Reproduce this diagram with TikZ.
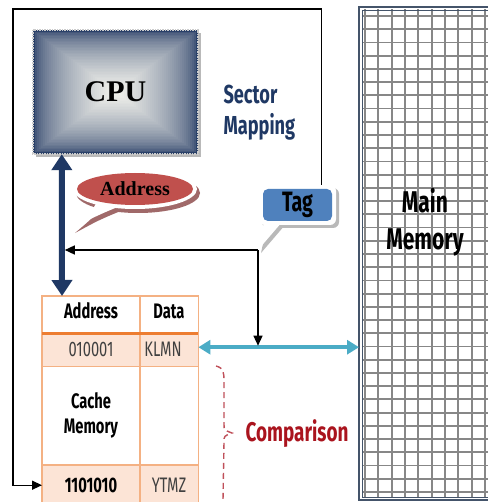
\documentclass[tikz,border=0pt]{standalone}
\usepackage{fontspec}
\setmainfont{Liberation Serif}
\newfontfamily\cond{Fira Sans}[FakeStretch=0.7]
\usetikzlibrary{arrows.meta,calc}
\definecolor{navy}{RGB}{31,56,100}
\definecolor{cpuD}{RGB}{42,64,104}
\definecolor{cpuL}{RGB}{242,242,236}
\definecolor{tagblue}{RGB}{79,129,189}
\definecolor{addrred}{RGB}{192,80,77}
\definecolor{addrsh}{RGB}{160,105,105}
\definecolor{tblline}{RGB}{244,177,131}
\definecolor{tblthick}{RGB}{237,125,49}
\definecolor{peach}{RGB}{252,228,214}
\definecolor{tealc}{RGB}{75,172,198}
\definecolor{memedge}{RGB}{68,84,106}
\definecolor{gridc}{RGB}{135,135,135}
\definecolor{compred}{RGB}{192,80,90}
\definecolor{comptext}{RGB}{170,20,30}
\tikzset{
  box/.style={inner sep=0pt, anchor=north west},
  tbltxt/.style={font=\cond\bfseries\fontsize{21}{25}\selectfont, text=black, align=center},
  tblval/.style={font=\cond\fontsize{21}{25}\selectfont, text=black!75},
  blk/.style={line width=1.4pt, -{Triangle[width=9pt,length=10pt]}},
  gridline/.style={gridc, line width=1.8pt},
}
\begin{document}
\begin{tikzpicture}[x=1pt,y=-1pt]
\useasboundingbox (0,0) rectangle (487,502);
\fill[white] (0,0) rectangle (487,502);

% ---------- CPU ----------
\fill[gray!55] (36,33) rectangle (201,157);
\foreach \i in {0,...,40}{
  \pgfmathsetmacro\fr{1-\i/41}
  \pgfmathsetmacro\tp{100*(\i/40)^0.55}
  \fill[cpuL!\tp!cpuD] ({115.5-82.5*\fr},{92-62*\fr}) rectangle ({115.5+82.5*\fr},{92+62*\fr});
}
\draw[white!60!gray, densely dotted, line width=1.5pt] (33,30) rectangle (198,154);
\node[font=\bfseries\fontsize{30}{30}\selectfont, minimum width=165pt, minimum height=124pt, inner sep=0pt] (cpu) at (115.5,92) {CPU};

% ---------- Main memory ----------
\node[box, minimum width=140pt, minimum height=493pt, fill=white] (mm) at (359,7) {};
\begin{scope}
\clip (362,10) rectangle (495,497);
\foreach \k in {0,...,10} \draw[gridline] ({365+13.33*\k},7) -- ({365+13.33*\k},500);
\foreach \k in {0,...,36} \draw[gridline] (359,{16+13.22*\k}) -- (495,{16+13.22*\k});
\end{scope}
\draw[memedge, line width=1.5pt] (495,7) -- (359,7) -- (359,500) -- (495,500);
\draw[memedge, line width=0.8pt] (495,10) -- (362,10) -- (362,497) -- (495,497);
\node[font=\cond\bfseries\fontsize{30}{37}\selectfont, align=center] (mmt) at (425,222) {Main\\Memory};

% ---------- Cache table ----------
\node[box, minimum width=156pt, minimum height=209pt] (tbl) at (42,296) {};
\node[box, minimum width=156pt, minimum height=33pt, fill=peach] (row1) at (42,333) {};
\node[box, minimum width=156pt, minimum height=40pt, fill=peach] (row3) at (42,465) {};
\draw[tblline, line width=1.2pt] (tbl.north west) rectangle (tbl.south east);
\draw[tblline, line width=1.2pt] (140,296) -- (140,505);
\draw[tblline, line width=1.2pt] (row1.south west) -- (row1.south east);
\draw[tblline, line width=1.2pt] (row3.north west) -- (row3.north east);
\draw[tblthick, line width=3pt] (row1.north west) -- (row1.north east);
\node[tbltxt] (hA) at (91,311) {Address};
\node[tbltxt] (hD) at (169,311) {Data};
\node[tblval] (r1a) at (91,349) {010001};
\node[tblval] (r1d) at (163,349) {KLMN};
\node[tbltxt] (cm) at (91,415) {Cache\\Memory};
\node[tbltxt] (r3a) at (91,485) {1101010};
\node[tblval] (r3d) at (169,485) {YTMZ};

% ---------- Address bubble ----------
\begin{scope}[shift={(3,4)}]
\fill[addrsh] (135,189) ellipse [x radius=62, y radius=20];
\fill[addrsh] (98,199) .. controls (92,212) .. (72,229) .. controls (96,216) .. (120,206) -- cycle;
\end{scope}
\fill[white] (135,189) ellipse [x radius=62, y radius=20];
\fill[white] (98,199) .. controls (92,212) .. (72,229) .. controls (96,216) .. (120,206) -- cycle;
\fill[addrred] (135,189) ellipse [x radius=58, y radius=16];
\node[font=\bfseries\fontsize{20}{20}\selectfont] (addr) at (135,189) {Address};

% ---------- Tag bubble ----------
\begin{scope}[shift={(3,3)}]
\fill[gray!55, rounded corners=6pt] (259,185) rectangle (336,225);
\fill[gray!55] (264,222) -- (282,222) -- (258,250) -- cycle;
\end{scope}
\fill[white, rounded corners=6pt] (259,185) rectangle (336,225);
\fill[white] (264,222) -- (282,222) -- (258,250) -- cycle;
\fill[tagblue, rounded corners=5pt] (263,189) rectangle (332,221);
\node[font=\cond\bfseries\fontsize{28}{28}\selectfont, minimum width=77pt, minimum height=40pt, inner sep=0pt] (tag) at (297.5,205) {Tag};
\coordinate (tagtip) at (258,250);

% ---------- Sector mapping ----------
\node[anchor=west, align=left, text=navy, font=\cond\bfseries\fontsize{26}{31}\selectfont] (sm) at (220,113) {Sector\\Mapping};

% ---------- Connectors ----------
\coordinate (bus) at ([xshift=29pt]cpu.south west);
\draw[navy, line width=6pt, {Triangle[width=20pt,length=16pt]}-{Triangle[width=20pt,length=16pt]}] (bus) -- ([xshift=20pt]tbl.north west);
\draw[blk] (tagtip) -- ([xshift=3pt]tagtip -| bus);
\draw[tealc, line width=4pt, {Triangle[width=14pt,length=12pt]}-{Triangle[width=14pt,length=12pt]}] ([yshift=2.5pt]row1.east) -- ([yshift=2.5pt]row1.east -| mm.west);
\draw[blk] (tagtip) -- ([yshift=4pt]tagtip |- row1.east);
\coordinate (loopc) at (13,9);
\draw[blk] ([xshift=-15pt]tag.north east) |- (loopc) |- (row3.west);

% ---------- Comparison ----------
\draw[compred, line width=1.4pt, dash pattern=on 6pt off 4pt] (216,366) .. controls (224,368) and (224,373) .. (224,382) -- (224,424) .. controls (224,430) .. (232,433) .. controls (224,436) .. (224,442) -- (223,500);
\node[text=comptext, font=\cond\bfseries\fontsize{27}{27}\selectfont, anchor=west] (cmp) at (242,434) {Comparison};
\end{tikzpicture}
\end{document}
